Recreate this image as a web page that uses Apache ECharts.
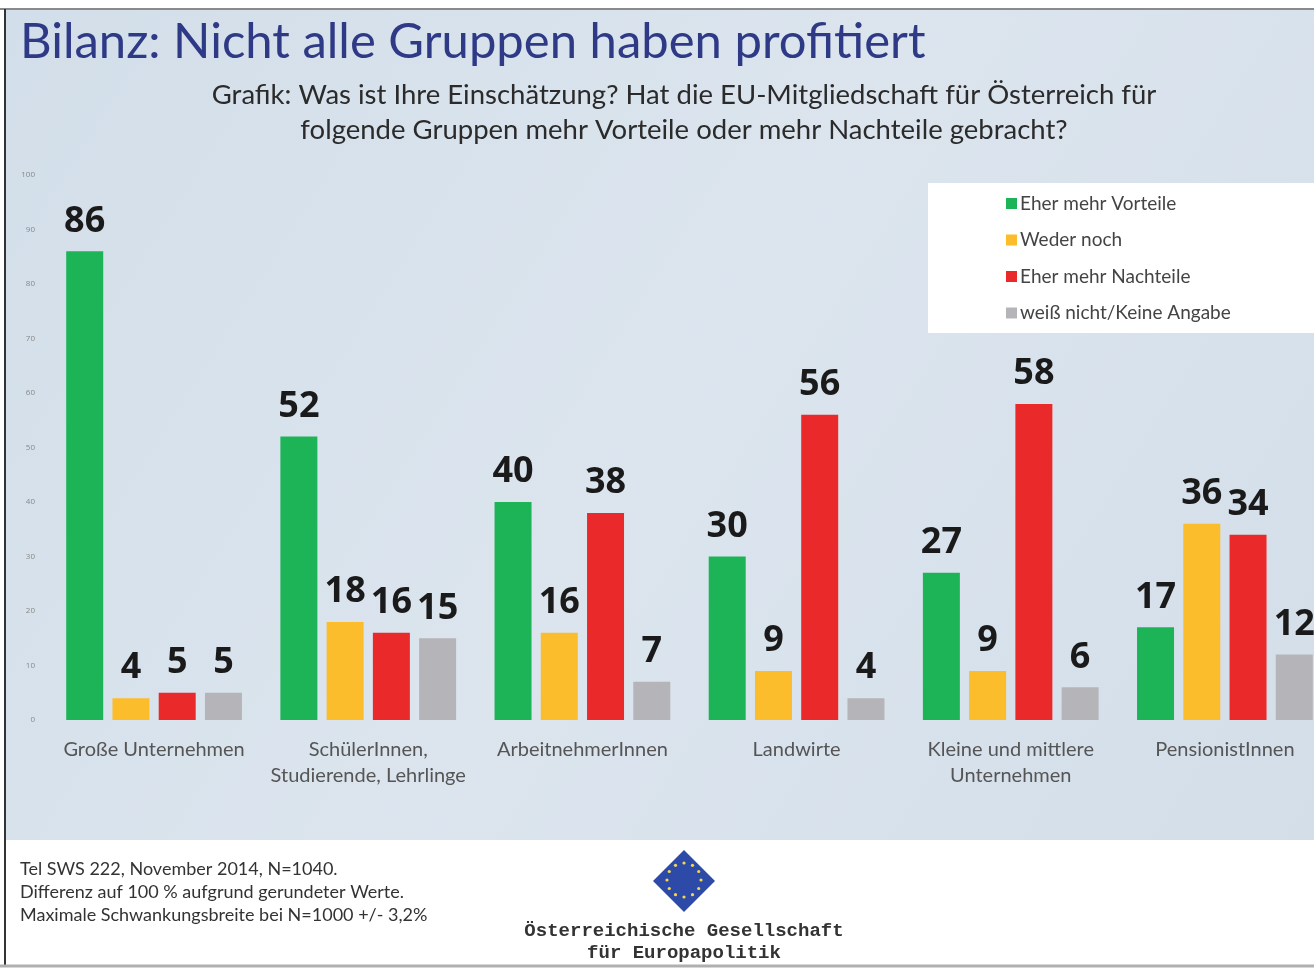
<!DOCTYPE html>
<html>
<head>
<meta charset="utf-8">
<script src="https://cdn.jsdelivr.net/npm/echarts@6/dist/echarts.min.js"></script>
<style>
  html, body { margin: 0; padding: 0; background: #fff; }
  #main { width: 1314px; height: 969px; }
</style>
</head>
<body>
<div id="main"></div>
<script>
var categories = ['Große Unternehmen', 'SchülerInnen,\nStudierende, Lehrlinge', 'ArbeitnehmerInnen', 'Landwirte', 'Kleine und mittlere\nUnternehmen', 'PensionistInnen'];
var vorteile = [86, 52, 40, 30, 27, 17];
var wederNoch = [4, 18, 16, 9, 9, 36];
var nachteile = [5, 16, 38, 56, 58, 34];
var weissNicht = [5, 15, 7, 4, 6, 12];
var seriesNames = ['Eher mehr Vorteile', 'Weder noch', 'Eher mehr Nachteile', 'weiß nicht/Keine Angabe'];
var colors = ['#1db457', '#fbbd2b', '#ea2a2a', '#b5b5b9'];

var chartDom = document.getElementById('main');
var myChart = echarts.init(chartDom);
var option;

// 12 little stars of the logo
var stars = [];
for (var i = 0; i < 12; i++) {
  var a = i * Math.PI / 6;
  stars.push({
    type: 'circle',
    shape: { cx: 684 + 17 * Math.cos(a), cy: 880 + 17 * Math.sin(a), r: 1.6 },
    style: { fill: '#f4d84a' },
    z: 3
  });
}

function makeSeries(name, data, color) {
  return {
    name: name,
    type: 'bar',
    data: data,
    barWidth: 37,
    barGap: '25%',
    itemStyle: { color: color },
    label: {
      show: true,
      position: 'top',
      distance: 12,
      fontFamily: 'Open Sans',
      fontWeight: 'bold',
      fontSize: 36,
      color: '#1a1a1a'
    }
  };
}

option = {
  backgroundColor: '#ffffff',
  textStyle: { fontFamily: 'Open Sans' },
  graphic: [
    {
      type: 'rect',
      shape: { x: 6, y: 10, width: 1308, height: 830 },
      style: {
        fill: new echarts.graphic.LinearGradient(0, 0, 1, 1, [
          { offset: 0, color: '#d2dee9' },
          { offset: 0.5, color: '#dce5ee' },
          { offset: 1, color: '#d3dee9' }
        ])
      },
      z: -10
    },
    { type: 'line', shape: { x1: 0, y1: 9, x2: 1314, y2: 9 }, style: { stroke: '#8a8a8a', lineWidth: 2 }, z: 5 },
    { type: 'line', shape: { x1: 5, y1: 9, x2: 5, y2: 966 }, style: { stroke: '#333333', lineWidth: 2 }, z: 5 },
    { type: 'line', shape: { x1: 0, y1: 966, x2: 1314, y2: 966 }, style: { stroke: '#b0b0b0', lineWidth: 3 }, z: 5 },
    {
      type: 'rect',
      shape: { x: 928, y: 183, width: 390, height: 150 },
      style: { fill: '#ffffff' },
      z: -5
    },
    {
      type: 'text',
      x: 20,
      y: 42,
      style: { text: 'Bilanz: Nicht alle Gruppen haben profitiert', fill: '#2f3a86', font: '49px Lato', verticalAlign: 'middle' }
    },
    {
      type: 'text',
      x: 684,
      y: 113,
      style: {
        text: 'Grafik: Was ist Ihre Einschätzung? Hat die EU-Mitgliedschaft für Österreich für\nfolgende Gruppen mehr Vorteile oder mehr Nachteile gebracht?',
        fill: '#2b2b2b',
        font: '27.5px Lato',
        lineHeight: 35,
        align: 'center',
        verticalAlign: 'middle'
      }
    },
    {
      type: 'text',
      left: 20,
      top: 858,
      style: {
        text: 'Tel SWS 222, November 2014, N=1040.\nDifferenz auf 100 % aufgrund gerundeter Werte.\nMaximale Schwankungsbreite bei N=1000 +/- 3,2%',
        fill: '#333333',
        font: '18px Lato',
        lineHeight: 23
      }
    },
    {
      type: 'polygon',
      shape: { points: [[684, 850], [715, 881], [684, 912], [653, 881]] },
      style: { fill: '#2d4aa8' }
    },
    {
      type: 'text',
      x: 684,
      y: 942,
      style: {
        text: 'Österreichische Gesellschaft\nfür Europapolitik',
        fill: '#333333',
        font: 'bold 19px Liberation Mono',
        lineHeight: 22,
        align: 'center',
        verticalAlign: 'middle'
      }
    }
  ].concat(stars),
  legend: {
    orient: 'vertical',
    left: 1001,
    top: 189,
    itemWidth: 11,
    itemHeight: 11,
    itemGap: 17.5,
    icon: 'rect',
    data: seriesNames,
    textStyle: { fontSize: 19, color: '#444444', fontFamily: 'Lato', padding: [0, 0, 0, -2] }
  },
  grid: {
    left: 47,
    top: 175,
    width: 1285,
    height: 545,
    outerBoundsMode: 'none'
  },
  xAxis: {
    type: 'category',
    data: categories,
    axisLine: { show: false },
    axisTick: { show: false },
    axisLabel: {
      margin: 17,
      fontSize: 20,
      lineHeight: 26,
      color: '#555555',
      fontFamily: 'Lato',
      interval: 0
    }
  },
  yAxis: {
    type: 'value',
    min: 0,
    max: 100,
    interval: 10,
    axisLine: { show: false },
    axisTick: { show: false },
    splitLine: { show: false },
    axisLabel: { fontSize: 8, color: '#888888', margin: 12 }
  },
  series: [
    makeSeries(seriesNames[0], vorteile, colors[0]),
    makeSeries(seriesNames[1], wederNoch, colors[1]),
    makeSeries(seriesNames[2], nachteile, colors[2]),
    makeSeries(seriesNames[3], weissNicht, colors[3])
  ]
};

option && myChart.setOption(option);
</script>
</body>
</html>
